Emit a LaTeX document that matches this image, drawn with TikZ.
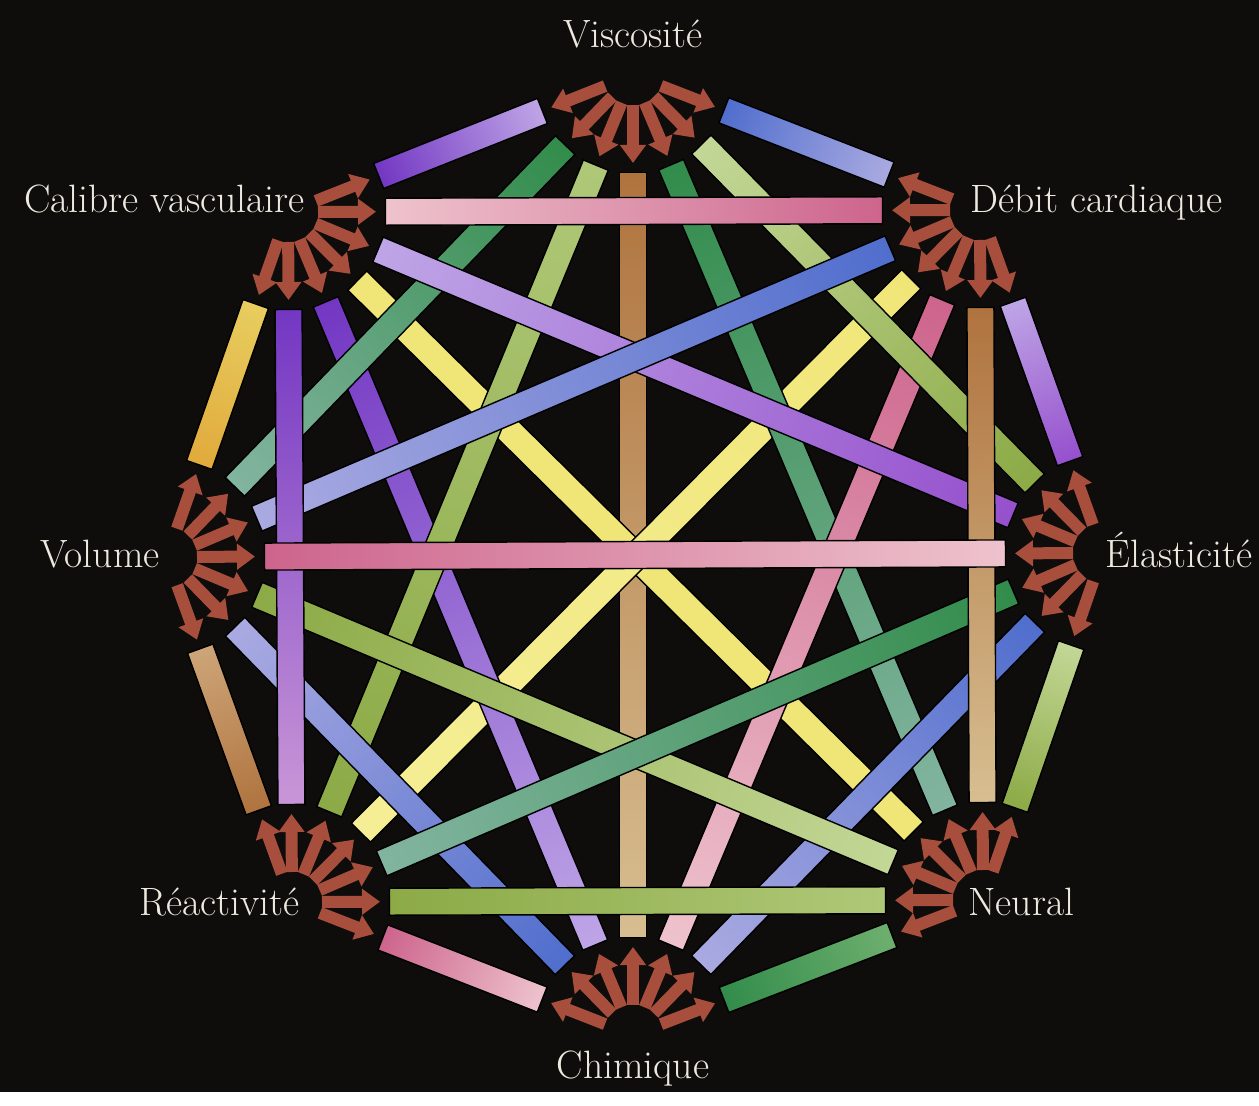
\documentclass[tikz,border=0pt]{standalone}
\usetikzlibrary{arrows.meta,calc}
\definecolor{bgblack}{RGB}{14,13,12}
\definecolor{fanred}{RGB}{168,78,60}
\definecolor{labelwhite}{RGB}{236,233,222}
\definecolor{midblue}{RGB}{80,110,205}
\definecolor{paleblue}{RGB}{170,170,225}
\definecolor{deeppurple}{RGB}{115,55,195}
\definecolor{lavender}{RGB}{190,165,230}
\definecolor{violet}{RGB}{150,80,205}
\definecolor{lilac}{RGB}{200,150,215}
\definecolor{darkgreen}{RGB}{50,140,75}
\definecolor{midgreen}{RGB}{110,175,110}
\definecolor{tealgray}{RGB}{130,180,160}
\definecolor{olive}{RGB}{140,170,70}
\definecolor{lightolive}{RGB}{175,200,120}
\definecolor{palegreen}{RGB}{195,215,150}
\definecolor{yellow}{RGB}{240,230,120}
\definecolor{lightyellow}{RGB}{245,238,150}
\definecolor{sunyellow}{RGB}{232,205,95}
\definecolor{gold}{RGB}{225,170,60}
\definecolor{brown}{RGB}{175,115,62}
\definecolor{lightbrown}{RGB}{205,165,120}
\definecolor{tan}{RGB}{215,190,145}
\definecolor{rose}{RGB}{205,100,140}
\definecolor{palerose}{RGB}{238,195,205}
\tikzset{
  ribbon/.style={draw=black, line width=0.8pt},
  fanarrow/.style={fanred, line width=0.24cm, -{Triangle[width=0.5cm,length=0.36cm]}},
  nametext/.style={text=labelwhite, inner sep=0pt, font=\fontsize{22.5}{27}\selectfont}
}
\makeatletter
\newcommand{\linkbar}[4]{%
  \pgfmathanglebetweenpoints{\pgfpointanchor{#1}{center}}{\pgfpointanchor{#2}{center}}%
  \let\barangle\pgfmathresult
  \pgfpointdiff{\pgfpointanchor{#1}{center}}{\pgfpointanchor{#2}{center}}%
  \edef\barx{\the\pgf@x}\edef\bary{\the\pgf@y}%
  \pgfmathveclen{\barx}{\bary}%
  \let\barlength\pgfmathresult
  \path[ribbon, left color=#3, right color=#4,
    transform canvas={shift={(#1)}, rotate=\barangle}]
    (1.95cm,-0.27cm) rectangle ({\barlength pt-1.95cm},0.27cm);
}
\makeatother
\begin{document}
\begin{tikzpicture}
\fill[bgblack] (0,0) rectangle (25.18,21.84);
\coordinate (visc) at (12.66,20.34);
\coordinate (debit) at (19.6,17.64);
\coordinate (elast) at (22.06,10.78);
\coordinate (neural) at (19.66,3.84);
\coordinate (chim) at (12.66,1.14);
\coordinate (react) at (5.84,3.8);
\coordinate (vol) at (3.34,10.7);
\coordinate (calib) at (5.76,17.6);

\linkbar{visc}{debit}{midblue}{paleblue}
\linkbar{visc}{calib}{lavender}{deeppurple}
\linkbar{calib}{vol}{sunyellow}{gold}
\linkbar{vol}{react}{lightbrown}{brown}
\linkbar{react}{chim}{rose}{palerose}
\linkbar{chim}{neural}{darkgreen}{midgreen}
\linkbar{neural}{elast}{olive}{palegreen}
\linkbar{elast}{debit}{violet}{lavender}
\linkbar{visc}{chim}{brown}{tan}
\linkbar{neural}{calib}{yellow}{yellow}
\linkbar{debit}{react}{yellow}{lightyellow}
\linkbar{visc}{neural}{darkgreen}{tealgray}
\linkbar{calib}{chim}{deeppurple}{lavender}
\linkbar{visc}{react}{lightolive}{olive}
\linkbar{debit}{chim}{rose}{palerose}
\linkbar{visc}{vol}{darkgreen}{tealgray}
\linkbar{visc}{elast}{palegreen}{olive}
\linkbar{elast}{chim}{midblue}{paleblue}
\linkbar{vol}{chim}{paleblue}{midblue}
\linkbar{neural}{vol}{palegreen}{olive}
\linkbar{calib}{elast}{lavender}{violet}
\linkbar{debit}{vol}{midblue}{paleblue}
\linkbar{elast}{react}{darkgreen}{tealgray}
\linkbar{calib}{react}{deeppurple}{lilac}
\linkbar{debit}{neural}{brown}{tan}
\linkbar{calib}{debit}{palerose}{rose}
\linkbar{react}{neural}{olive}{lightolive}
\linkbar{vol}{elast}{rose}{palerose}

\foreach \a in {visc,debit,elast,neural,chim,react,vol,calib}
  \foreach \b in {visc,debit,elast,neural,chim,react,vol,calib}
    {\ifx\a\b\else\draw[fanarrow] ($(\a)!0.6cm!(\b)$) -- ($(\a)!1.76cm!(\b)$);\fi}

\node[nametext, anchor=base] (tvisc) at (12.66,20.88) {Viscosité};
\node[nametext, anchor=base east] (tcalib) at (6.1,17.58) {Calibre vasculaire};
\node[nametext, anchor=base west] (tdebit) at (19.4,17.58) {Débit cardiaque};
\node[nametext, anchor=base east] (tvol) at (3.2,10.48) {Volume};
\node[nametext, anchor=base west] (telast) at (22.1,10.48) {Élasticité};
\node[nametext, anchor=base east] (treact) at (6.0,3.54) {Réactivité};
\node[nametext, anchor=base west] (tneural) at (19.36,3.54) {Neural};
\node[nametext, anchor=base] (tchim) at (12.66,0.28) {Chimique};
\end{tikzpicture}
\end{document}
